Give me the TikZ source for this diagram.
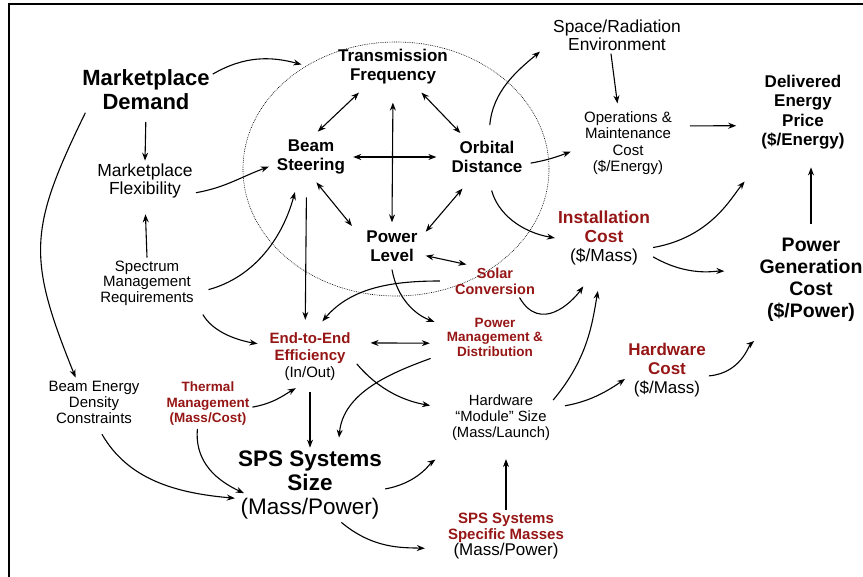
\documentclass[tikz,border=0pt]{standalone}
\usepackage{fontspec}
\setmainfont{Liberation Sans}
\usetikzlibrary{shapes.geometric,arrows.meta}
\definecolor{sred}{RGB}{150,22,22}
\newcommand{\hot}[1]{\textcolor{sred}{\bfseries #1}}
\newcommand{\fs}[2]{\fontsize{#1}{#2}\selectfont}
\tikzset{
  lbl/.style={align=center, inner sep=3pt},
  core/.style={align=center, inner sep=8pt, font=\bfseries\fs{17}{19}},
  conn/.style={-{Stealth[length=8pt,width=6pt]}, line width=1.1pt},
  both/.style={{Stealth[length=8pt,width=6pt]}-{Stealth[length=8pt,width=6pt]}, line width=1.1pt},
}
\begin{document}
\begin{tikzpicture}[x=1pt,y=1pt]
 \useasboundingbox (0,0) rectangle (863,-577);
 \draw [line width=2pt](9,-577) -- (9,-4) -- (863,-4);

 % the trade space ring
 \node [draw, ellipse, dash pattern=on 0.8pt off 1pt, line width=0.6pt,
        minimum width=306pt, minimum height=254pt] (ring) at (396,-169) {};

 \node [lbl, font=\bfseries\fs{22}{24}] (md) at (146,-89.5) {Marketplace\\Demand};
 \node [lbl, font=\fs{17.5}{18}] (mf) at (145,-181) {Marketplace\\Flexibility};
 \node [lbl, font=\fs{15}{15.5}] (smr) at (147,-283) {Spectrum\\Management\\Requirements};
 \node [lbl, font=\fs{15}{16}] (bed) at (94,-402) {Beam Energy\\Density\\Constraints};
 \node [lbl, text=sred, font=\bfseries\fs{13.5}{15.5}] (tm) at (208,-404) {Thermal\\Management\\(Mass/Cost)};

 \node [core] (tf) at (393,-67) {Transmission\\Frequency};
 \node [core] (bs) at (311,-157) {Beam\\Steering};
 \node [core] (od) at (487,-157) {Orbital\\Distance};
 \node [core] (pl) at (392,-246) {Power\\Level};
 \node [lbl, text=sred, font=\bfseries\fs{14.5}{16}] (sc) at (495,-281) {Solar\\Conversion};

 \node [lbl, font=\fs{17.4}{18}] (sre) at (617,-35) {Space/Radiation\\Environment};
 \node [lbl, font=\fs{15}{16.3}] (om) at (628,-143) {Operations \&\\Maintenance\\Cost\\(\$/Energy)};
 \node [lbl, font=\bfseries\fs{17}{19.5}] (dep) at (803,-112) {Delivered\\Energy\\Price\\(\$/Energy)};
 \node [lbl, font=\fs{17.4}{19}] (ic) at (604,-238) {\hot{Installation}\\\hot{Cost}\\(\$/Mass)};
 \node [lbl, font=\bfseries\fs{19.5}{22}] (pgc) at (811,-280) {Power\\Generation\\Cost\\(\$/Power)};

 \node [lbl, font=\fs{15}{17}] (ee) at (310,-357) {\hot{End-to-End}\\\hot{Efficiency}\\(In/Out)};
 \node [lbl, text=sred, font=\bfseries\fs{13.5}{14.5}] (pmd) at (495,-337) {Power\\Management \&\\Distribution};
 \node [lbl, font=\fs{14.8}{16}] (hm) at (501,-418) {Hardware\\``Module'' Size\\(Mass/Launch)};
 \node [lbl, font=\fs{17}{19}] (hc) at (667,-370) {\hot{Hardware}\\\hot{Cost}\\(\$/Mass)};
 \node [lbl, font=\fs{22.5}{24}] (sss) at (310,-485) {\textbf{SPS Systems}\\\textbf{Size}\\(Mass/Power)};
 \node [lbl, font=\fs{15}{16}] (ssm) at (506,-536) {\hot{SPS Systems}\\\hot{Specific Masses}\\{\fs{17}{16}(Mass/Power)}};

 % inside the ring
 \draw [both] (tf.-143) -- (bs.75);
 \draw [both] (tf.-42) -- (od.138);
 \draw [both, shorten <=10pt] (tf.south) -- (pl.north);
 \draw [both, shorten >=7pt] (bs.east) -- (od.west);
 \draw [both, shorten >=10pt] (bs.-78) -- (pl.160);
 \draw [both, shorten <=10pt] (od.-127) -- (pl.23);
 \draw [both] (pl.-16) -- (sc.150);

 % left side
 \draw [conn, shorten >=5pt] (md.13) to[out=30,in=165] (ring.131);
 \draw [conn, shorten <=9pt] (md.south) -- (mf.north);
 \draw [conn, shorten >=13pt] (smr.north) -- (mf.south);
 \draw [conn] (mf.-13) to[out=10,in=200] (bs.193);
 \draw [conn, shorten <=12pt, shorten >=10pt] (smr.-11) to[out=15,in=255] (bs.-118);
 \draw [conn, shorten <=12pt, shorten >=9pt] (smr.-23) to[out=-60,in=170] (ee.165);
 \draw [conn, looseness=1.25] (md.201) to[out=-116,in=112] (bed.127);
 \draw [conn, shorten <=9pt] (bed.-82) to[out=-60,in=175] (sss.190);
 \draw [conn, shorten >=-10pt] (tm.-113) to[out=-95,in=155] (sss.183);
 \draw [conn, shorten >=8pt] (tm.-4) to[out=10,in=210] (ee.-105);

 % middle
 \draw [conn, shorten <=15pt, shorten >=10pt] (bs.-100) -- (ee.100);
 \draw [conn, shorten <=12pt, shorten >=11pt] (sc.west) to[out=180,in=50] (ee.79);
 \draw [conn, shorten >=10pt] (pl.south) to[out=-80,in=160] (pmd.167);
 \draw [both, shorten <=17pt, shorten >=14pt] (ee.18) -- (pmd.187);
 \draw [conn, shorten <=5pt, shorten >=19pt] (ee.-4) to[out=-50,in=170] (hm.170);
 \draw [conn, shorten <=14pt, shorten >=10pt] (pmd.198) to[out=200,in=85] (sss.53);
 \draw [conn, shorten <=8pt] (ee.south) -- (sss.north);
 \draw [conn, shorten >=27pt] (sss.-3) to[out=10,in=215] (hm.211);
 \draw [conn, shorten >=20pt] (sss.-50) to[out=-40,in=178] (ssm.192);
 \draw [conn, shorten >=15pt] (ssm.north) -- (hm.south -| ssm.north);

 % right side
 \draw [conn, shorten <=8pt, shorten >=13pt] (od.85) to[out=85,in=220] (sre.187);
 \draw [conn, shorten >=11pt] (od.-8) to[out=10,in=200] (om.186);
 \draw [conn, shorten <=10pt] (od.-85) to[out=-75,in=170] (ic.west);
 \draw [conn, shorten >=5pt] (sre.-108) -- (om.106);
 \draw [conn, shorten <=15pt, shorten >=22pt] (om.20) -- (dep.197);
 \draw [conn, shorten >=23pt] (hm.19) to[out=50,in=-100] (ic.-94);
 \draw [conn, shorten >=22pt, looseness=1.3] (sc.-34) to[out=-60,in=235] (ic.-105);
 \draw [conn, shorten <=12pt] (hm.11) to[out=10,in=215] (hc.192);
 \draw [conn, shorten >=25pt] (hc.-8) to[out=5,in=220] (pgc.-130);
 \draw [conn, shorten >=38pt] (ic.-11) to[out=10,in=230] (dep.-130);
 \draw [conn, shorten >=32pt] (ic.-21) to[out=-30,in=178] (pgc.172);
 \draw [conn, shorten <=11pt, shorten >=15pt] (pgc.north) -- (pgc.north |- dep.south);
\end{tikzpicture}
\end{document}
